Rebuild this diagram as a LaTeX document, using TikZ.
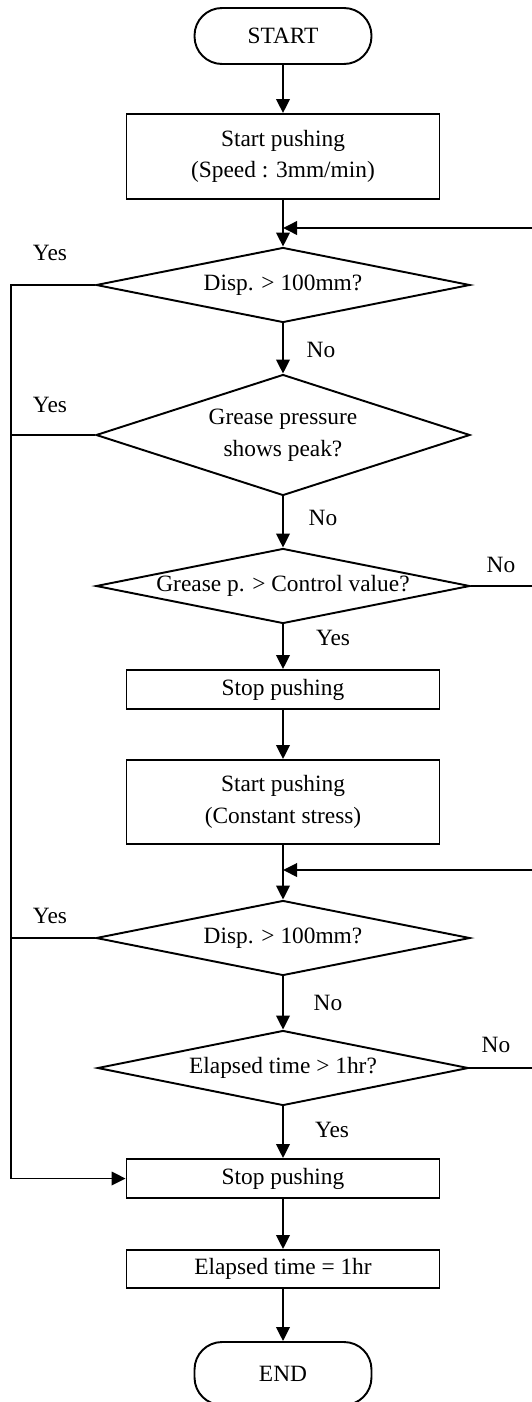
\documentclass[tikz,border=0pt]{standalone}
\usepackage{fontspec}
\setmainfont{Liberation Serif}
\usetikzlibrary{shapes.geometric,arrows.meta}

\begin{document}
\begin{tikzpicture}[x=0.02cm, y=-0.02cm, line width=1.1pt,
    font=\fontsize{13.3}{18}\selectfont,
    every node/.style={inner sep=0pt},
    arr/.style={-{Triangle[length=0.28cm,width=0.27cm]}},
    term/.style={draw, rectangle, rounded corners=0.55cm, minimum width=3.54cm, minimum height=1.12cm},
    proc/.style={draw, rectangle, align=center, minimum width=6.26cm, minimum height=0.78cm},
    cond/.style={draw, diamond, align=center, aspect=5, minimum width=7.48cm, minimum height=1.5cm},
    lbl/.style={anchor=center}]
  \useasboundingbox (0,0) rectangle (531,1402);

  % main column
  \node[term] (start) at (283,36) {START};
  \node[proc, minimum height=1.7cm] (push1) at (283,156.5) {Start pushing\\(Speed : 3mm/min)};
  \node[cond] (dispA) at (283,285) {Disp. > 100mm?};
  \node[cond, aspect=3, minimum height=2.42cm] (peak) at (283,435) {Grease pressure\\shows peak?};
  \node[cond] (ctrl) at (283,586) {Grease p. > Control value?};
  \node[proc] (stopA) at (283,689.5) {Stop pushing};
  \node[proc, minimum height=1.68cm] (push2) at (283,802) {Start pushing\\(Constant stress)};
  \node[cond] (dispB) at (283,938) {Disp. > 100mm?};
  \node[cond, minimum width=7.42cm] (elapsed) at (283,1068) {Elapsed time > 1hr?};
  \node[proc] (stopB) at (283,1178.5) {Stop pushing};
  \node[proc, minimum height=0.76cm] (hour) at (283,1269) {Elapsed time = 1hr};
  \node[term, minimum height=1.26cm] (finish) at (283,1373.5) {END};

  \draw[arr] (start) -- (push1);
  \draw[arr] (push1) -- (dispA);
  \draw[arr] (dispA) -- (peak);
  \draw[arr] (peak) -- (ctrl);
  \draw[arr] (ctrl) -- (stopA);
  \draw[arr] (stopA) -- (push2);
  \draw[arr] (push2) -- (dispB);
  \draw[arr] (dispB) -- (elapsed);
  \draw[arr] (elapsed) -- (stopB);
  \draw[arr] (stopB) -- (hour);
  \draw[arr] (hour) -- (finish);

  % loops back on the right
  \coordinate (joinA) at (283,228);
  \coordinate (joinB) at (283,870);
  \coordinate (farA) at (545,586);
  \coordinate (farB) at (545,1068);
  \draw[arr] (ctrl.east) -- (farA) |- (joinA);
  \draw[arr] (elapsed.east) -- (farB) |- (joinB);

  % yes-branches on the left
  \coordinate (rail) at (11,285);
  \draw[arr] (dispA.west) -- (rail) |- (stopB.west);
  \draw (peak.west) -- (peak.west -| rail);
  \draw (dispB.west) -- (dispB.west -| rail);

  % labels
  \node[lbl] (yesA) at (50,253) {Yes};
  \node[lbl] (noA) at (321,350) {No};
  \node[lbl] (yesB) at (50,405) {Yes};
  \node[lbl] (noB) at (323,518) {No};
  \node[lbl] (noC) at (501,565) {No};
  \node[lbl] (yesC) at (333,638) {Yes};
  \node[lbl] (yesD) at (50,916) {Yes};
  \node[lbl] (noD) at (328,1003) {No};
  \node[lbl] (noE) at (496,1045) {No};
  \node[lbl] (yesE) at (332,1130) {Yes};
\end{tikzpicture}
\end{document}
